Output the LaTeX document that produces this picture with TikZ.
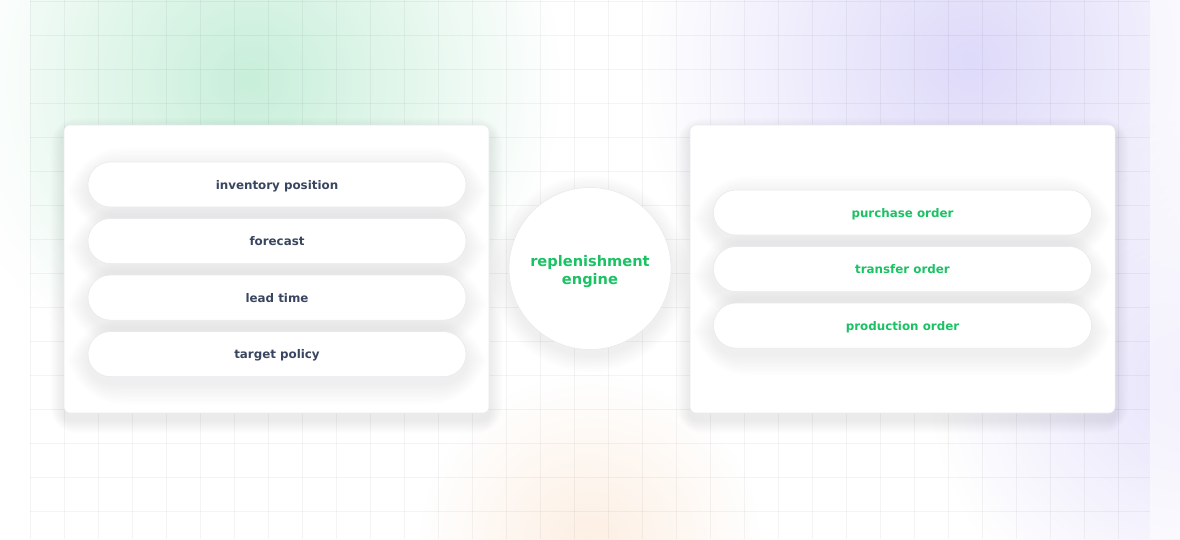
\documentclass[tikz,border=0pt]{standalone}
\usepackage{fontspec}
\setmainfont{DejaVu Sans}
\usetikzlibrary{positioning,fadings}

\definecolor{inktext}{HTML}{3A4660}
\definecolor{engreen}{HTML}{1BC264}
\definecolor{edgegray}{HTML}{E7E9EE}
\definecolor{mintblob}{HTML}{C8EFDA}
\definecolor{lilacblob}{HTML}{DEDAFA}
\definecolor{peachblob}{HTML}{FCEBDC}

\tikzfading[name=softblob, inner color=transparent!0, outer color=transparent!100]

\pgfdeclarelayer{backdrop}
\pgfdeclarelayer{panelshade}
\pgfdeclarelayer{panels}
\pgfdeclarelayer{pillshade}
\pgfsetlayers{backdrop,panelshade,panels,pillshade,main}

\begin{document}
\begin{tikzpicture}[x=0.75pt,y=-0.75pt,
  grid line/.style={draw=black,draw opacity=0.045,line width=0.75pt},
  shade step/.style={fill=black,opacity=#1},
  panel node/.style={rectangle,draw=edgegray,fill=white,rounded corners=4.5pt,
    minimum width=318.75pt,minimum height=216pt,inner sep=0pt},
  pill node/.style={rectangle,draw=edgegray,fill=white,rounded corners=16.8pt,
    minimum width=283.5pt,minimum height=33.75pt,inner sep=0pt,
    text height=7pt,text depth=0.2pt,
    font=\fontsize{8.9}{12}\selectfont\bfseries},
  engine node/.style={circle,draw=edgegray,fill=white,minimum size=121.5pt,inner sep=0pt,
    text=engreen,font=\fontsize{10.95}{13.5}\selectfont\bfseries}]

  \useasboundingbox (0,0) rectangle (1180,539);

  \begin{pgfonlayer}{backdrop}
  \fill[white] (0,0) rectangle (1180,539);
  % soft colour blobs
  \fill[mintblob,path fading=softblob] (250,80) circle (310);
  \fill[lilacblob,path fading=softblob] (970,60) circle (330);
  \fill[lilacblob!75,path fading=softblob] (1190,380) circle (260);
  \fill[peachblob!80,path fading=softblob] (590,545) circle (170);
  \fill[white,opacity=0.5] (0,0) rectangle (30,539);
  \fill[white,opacity=0.5] (1150,0) rectangle (1180,539);
  % grid
  \foreach \gx in {30,64,...,1150}
    \draw[grid line] (\gx,0) -- (\gx,539);
  \foreach \gy in {1,35,...,539}
    \draw[grid line] (30,\gy) -- (1150,\gy);
  \end{pgfonlayer}

  \begin{pgfonlayer}{panels}
  \node[panel node] (inputs) at (276.5,269) {};
  \node[panel node] (outputs) at (902.5,269) {};
  \end{pgfonlayer}

  \node[pill node,text=inktext] (position) at (277,184.5) {inventory position};
  \node[pill node,text=inktext] (forecast) [below=8.25pt of position] {forecast};
  \node[pill node,text=inktext] (leadtime) [below=8.25pt of forecast] {lead time};
  \node[pill node,text=inktext] (policy) [below=8.25pt of leadtime] {target policy};

  \node[engine node] (engine) at (590,268.5)
    {\raisebox{-2.25pt}[\height][\depth]{\begin{tabular}{@{}c@{}}replenishment\\engine\end{tabular}}};

  \node[pill node,text=engreen] (purchase) at (902.5,212.5) {purchase order};
  \node[pill node,text=engreen] (transfer) [below=8.25pt of purchase] {transfer order};
  \node[pill node,text=engreen] (production) [below=8.25pt of transfer] {production order};

  % soft shadows
  \begin{pgfonlayer}{panelshade}
  \foreach \nd in {inputs,outputs}
    \foreach \k [evaluate=\k as \sp using \k*1.6, evaluate=\k as \rr using 4.5+\k*1.6] in {1,...,10}
      \fill[shade step=0.006,rounded corners=\rr pt]
        ([xshift=-\sp pt,yshift=\sp pt-5pt]\nd.north west) rectangle ([xshift=\sp pt,yshift=-\sp pt-5pt]\nd.south east);
  \end{pgfonlayer}
  \begin{pgfonlayer}{pillshade}
  \foreach \nd in {position,forecast,leadtime,policy,purchase,transfer,production}
    \foreach \k [evaluate=\k as \sp using \k*1.7-2, evaluate=\k as \rr using 16.8+\k*1.7] in {1,...,16}
      \fill[shade step=0.0035,rounded corners=\rr pt]
        ([xshift=-\sp pt,yshift=\sp pt-5pt]\nd.north west) rectangle ([xshift=\sp pt,yshift=-\sp pt-5pt]\nd.south east);
  \foreach \k [evaluate=\k as \sp using 60.75+\k*1.6] in {1,...,8}
    \fill[shade step=0.007] ([yshift=-4pt]engine.center) circle (\sp pt);
  \end{pgfonlayer}

\end{tikzpicture}
\end{document}
